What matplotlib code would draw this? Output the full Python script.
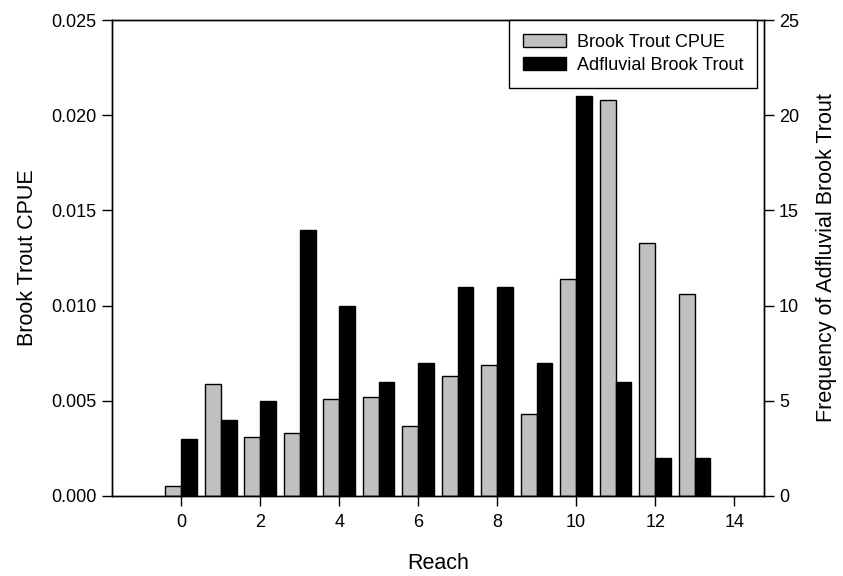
import numpy as np
import matplotlib.pyplot as plt

plt.rcParams['font.family'] = ['Liberation Sans', 'DejaVu Sans']

# Datos
reach = np.arange(0, 14)
cpue = [0.0005, 0.0059, 0.0031, 0.0033, 0.0051, 0.0052, 0.0037,
        0.0063, 0.0069, 0.0043, 0.0114, 0.0208, 0.0133, 0.0106]
adfluvial = [3, 4, 5, 14, 10, 6, 7, 11, 11, 7, 21, 6, 2, 2]

fig, ax = plt.subplots(figsize=(8.43, 5.76), dpi=100)
fig.subplots_adjust(left=0.133, right=0.906, top=0.965, bottom=0.139)
ax2 = ax.twinx()

w = 0.4
b1 = ax.bar(reach - w / 2, cpue, width=w, color='#c0c0c0', edgecolor='black',
            linewidth=1, label='Brook Trout CPUE')
b2 = ax2.bar(reach + w / 2, adfluvial, width=w, color='black', edgecolor='black',
             linewidth=1, label='Adfluvial Brook Trout')

ax.set_xlim(-1.75, 14.75)
ax.set_ylim(0, 0.025)
ax2.set_ylim(0, 25)
ax.set_xticks(np.arange(0, 15, 2))
ax.set_yticks(np.arange(0, 0.0251, 0.005))
ax.set_yticklabels(['%.3f' % v for v in np.arange(0, 0.0251, 0.005)])
ax2.set_yticks(np.arange(0, 26, 5))

for a in (ax, ax2):
    a.tick_params(direction='out', length=7, width=1, labelsize=13, pad=4)
    for s in a.spines.values():
        s.set_linewidth(1)
ax.tick_params(axis='x', pad=6)

ax.set_xlabel('Reach', fontsize=15.5, labelpad=16)
ax.set_ylabel('Brook Trout CPUE', fontsize=15.5, labelpad=10)
ax2.set_ylabel('Frequency of Adfluvial Brook Trout', fontsize=15.5, labelpad=12)

leg = ax2.legend([b1, b2], ['Brook Trout CPUE', 'Adfluvial Brook Trout'],
                 loc='upper right', bbox_to_anchor=(0.99, 1.0), borderaxespad=0,
                 fontsize=13, fancybox=False, framealpha=1, edgecolor='black',
                 handlelength=2.4, handleheight=0.75, borderpad=0.75,
                 labelspacing=0.35, handletextpad=0.6)
leg.get_frame().set_linewidth(1)

plt.savefig('out.png', dpi=100)
